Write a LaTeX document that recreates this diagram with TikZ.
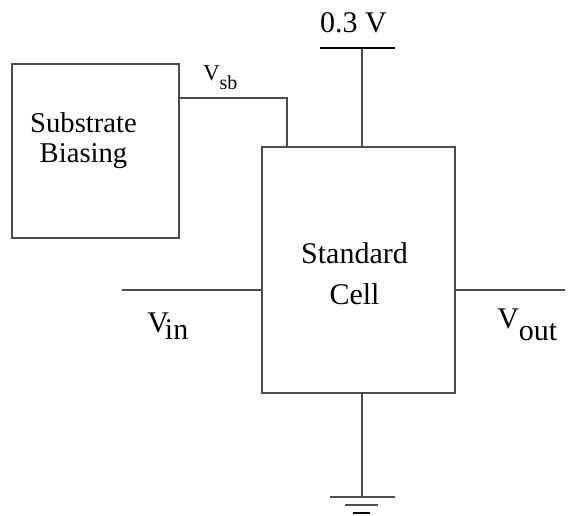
\documentclass[tikz,border=0pt]{standalone}
\usepackage{fontspec}
\setmainfont{Liberation Serif}
\usetikzlibrary{positioning}
\tikzset{blk/.style={draw=black!70,line width=0.9pt,inner sep=0pt},wire/.style={draw=black!70,line width=0.9pt},lbl/.style={inner sep=0pt,font=\fontsize{22.5}{27}\selectfont}}
\begin{document}
\begin{tikzpicture}[x=0.75pt,y=-0.75pt]
\useasboundingbox (0,0) rectangle (575,515);
\node[blk,minimum width=125.25pt,minimum height=130.5pt](sub)at(95.5,151){};
\node[blk,minimum width=144.75pt,minimum height=184.5pt](cell)at(358.5,270){};
\node[align=center,inner sep=0pt,font=\fontsize{21.5}{22.5}\selectfont](subtxt)at(83.5,140.4){Substrate\\Biasing};
\node[align=center,inner sep=0pt,font=\fontsize{22.5}{30.75}\selectfont](celltxt)at(354.5,273.3){Standard\\Cell};
% supply, ground and terminals
\coordinate(vdd)at(362,48);\coordinate(gnd)at(362,497);\coordinate(vsb)at(287,98);
\coordinate(in)at(122,290);\coordinate(out)at(565,290);
\node[lbl,anchor=base](vddtxt)at(353.5,32){0.3 V};
\node[lbl,anchor=base west,font=\fontsize{17}{20}\selectfont](vsbtxt)at(203,80){V\raisebox{-6.75pt}{\fontsize{15}{17}\selectfont sb}};
\node[lbl,anchor=base west](vintxt)at(147,332){V\kern-3pt\raisebox{-5.25pt}{in}};
\node[lbl,anchor=base west](vouttxt)at(497,328){V\raisebox{-9pt}{out}};
\draw[wire](sub.east|-vsb)-|(vsb|-cell.north);
\draw[wire](cell.north-|vdd)--(vdd);\draw[line width=1.5pt](vdd)++(-42,0)--++(75,0);
\draw[wire](in)--(in-|cell.west);\draw[wire](cell.east|-out)--(out);
\draw[wire](cell.south-|gnd)--(gnd);
\draw[wire](gnd)++(-32,0)--++(65,0);\draw[wire](gnd)++(-17,8)--++(33,0);\draw[line width=1.5pt](gnd)++(-9,16)--++(17,0);
\end{tikzpicture}
\end{document}
